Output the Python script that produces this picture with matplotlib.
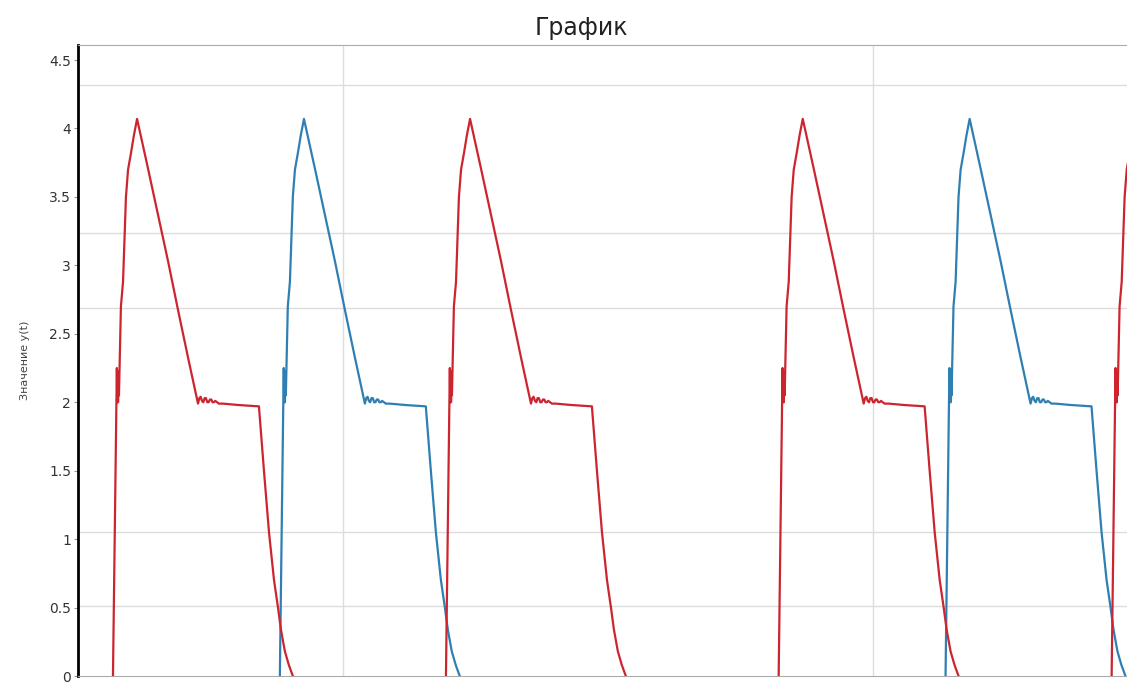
import matplotlib
matplotlib.use('Agg')
import matplotlib.pyplot as plt
from matplotlib.ticker import FuncFormatter

pulse_t = [0.00, 0.13, 0.147, 0.162, 0.177, 0.192, 0.208, 0.226, 0.30, 0.38,
           0.49, 0.57, 0.68, 0.79, 0.91, 1.32, 1.70, 2.08, 2.45, 2.83,
           3.21, 3.26, 3.31, 3.36, 3.41, 3.46, 3.51, 3.56, 3.61, 3.66,
           3.71, 3.76, 3.81, 3.86, 4.00, 4.15, 4.72, 5.51, 5.70, 5.89,
           6.08, 6.23, 6.34, 6.49, 6.64, 6.79]
pulse_y = [0.0, 2.0, 2.25, 2.0, 2.23, 2.0, 2.2, 2.05, 2.7, 2.88,
           3.5, 3.7, 3.82, 3.95, 4.07, 3.71, 3.37, 3.03, 2.68, 2.33,
           1.99, 2.03, 2.04, 2.01, 2.00, 2.03, 2.03, 2.00, 2.00, 2.02,
           2.02, 2.00, 2.00, 2.01, 1.99, 1.99, 1.98, 1.97, 1.5, 1.05,
           0.7, 0.5, 0.34, 0.18, 0.08, 0.0]

red_starts = [1.32, 13.89, 26.45, 39.02]
blue_starts = [7.62, 32.75]

yticks = [0, 0.5, 1, 1.5, 2, 2.5, 3, 3.5, 4, 4.5]
hgrid = [0.51, 1.05, 2.69, 3.24, 4.32]
vgrid = [10, 30]

red = '#cc2530'
blue = '#2f7fb3'

fig = plt.figure(figsize=(11.27, 6.82), dpi=100)
ax = fig.add_axes([78/1127, 6/682, 1 - 78/1127, (676-45)/682])

for y in hgrid:
    ax.axhline(y, color='#dcdcdc', lw=1.0, zorder=0)
for x in vgrid:
    ax.axvline(x, color='#dcdcdc', lw=1.0, zorder=0)

for s in blue_starts:
    ax.plot([s + t for t in pulse_t], pulse_y, color=blue, lw=1.6, zorder=2)
for s in red_starts:
    ax.plot([s + t for t in pulse_t], pulse_y, color=red, lw=1.6, zorder=3)

ax.set_xlim(0, 39.6)
ax.set_ylim(0, 4.61)
ax.set_yticks(yticks)
ax.yaxis.set_major_formatter(FuncFormatter(lambda v, p: '%g' % v))
ax.set_xticks([])
ax.tick_params(axis='y', length=3, width=0.8, color='#999999',
               labelsize=10, labelcolor='#333333', pad=2)

ax.spines['left'].set_color('black')
ax.spines['left'].set_linewidth(2)
ax.spines['top'].set_color('#aaaaaa')
ax.spines['bottom'].set_color('#aaaaaa')
ax.spines['right'].set_visible(False)

ax.set_ylabel('Значение y(t)', fontsize=8, color='#444444', labelpad=14)
fig.text(581/1127, 1 - 28/682, 'График', ha='center', va='center',
         fontsize=17, color='#222222')

fig.savefig('out.png', dpi=100)
